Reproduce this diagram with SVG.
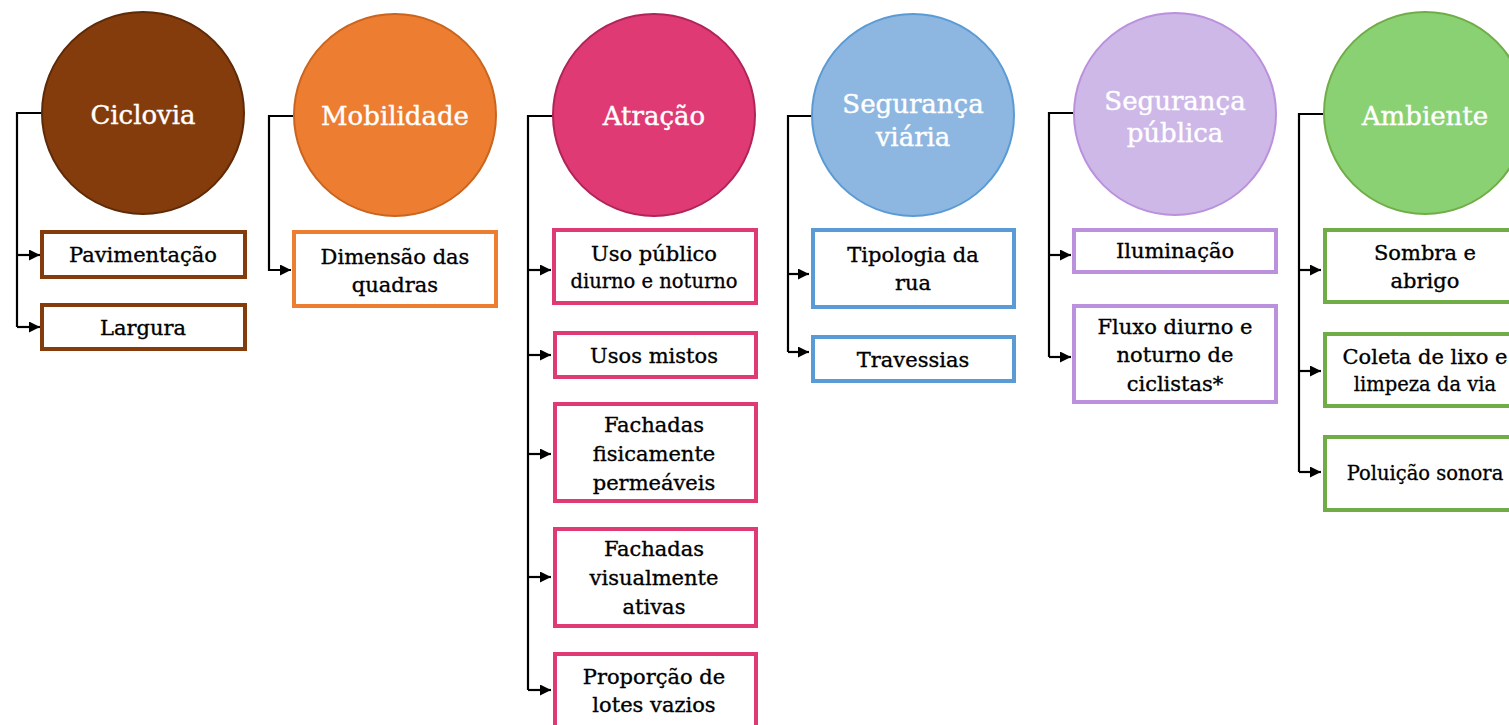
<svg xmlns="http://www.w3.org/2000/svg" width="1509" height="725" viewBox="0 0 1509 725">
<defs>
<marker id="arr" viewBox="0 0 10 10" refX="10" refY="5" markerWidth="11" markerHeight="11" markerUnits="userSpaceOnUse" orient="auto">
<path d="M0,0 L10,5 L0,10 z" fill="#000"/>
</marker>
<style>
text{font-family:"DejaVu Serif","Liberation Serif",serif;text-anchor:middle}
.ct{fill:#fff;stroke:#fff;stroke-width:0.4px;font-size:26px}
.bt{fill:#000;stroke:#000;stroke-width:0.35px;font-size:21px}
.st{fill:#000;stroke:#000;stroke-width:0.3px;font-size:19.5px}
.box{fill:#fff;stroke-width:4}
.c{stroke-width:2}
.con{fill:none;stroke:#000;stroke-width:2.2}
</style>
</defs>
<rect width="1509" height="725" fill="#fff"/>
<g id="connectors">
<path class="con" d="M42,113 H17 V327"/>
<path class="con" d="M17,255 H40" marker-end="url(#arr)"/>
<path class="con" d="M17,327 H40" marker-end="url(#arr)"/>
<path class="con" d="M293,116 H269 V270 H291" marker-end="url(#arr)"/>
<path class="con" d="M553,116 H528 V690"/>
<path class="con" d="M528,270 H551" marker-end="url(#arr)"/>
<path class="con" d="M528,355 H551" marker-end="url(#arr)"/>
<path class="con" d="M528,454 H551" marker-end="url(#arr)"/>
<path class="con" d="M528,577 H551" marker-end="url(#arr)"/>
<path class="con" d="M528,690 H551" marker-end="url(#arr)"/>
<path class="con" d="M812,116 H788 V352"/>
<path class="con" d="M788,274 H809" marker-end="url(#arr)"/>
<path class="con" d="M788,352 H809" marker-end="url(#arr)"/>
<path class="con" d="M1073,113 H1049 V357"/>
<path class="con" d="M1049,255 H1071" marker-end="url(#arr)"/>
<path class="con" d="M1049,357 H1071" marker-end="url(#arr)"/>
<path class="con" d="M1323,114 H1299 V472"/>
<path class="con" d="M1299,270 H1321" marker-end="url(#arr)"/>
<path class="con" d="M1299,371 H1321" marker-end="url(#arr)"/>
<path class="con" d="M1299,472 H1321" marker-end="url(#arr)"/>
</g>
<g id="n-ciclovia">
<circle class="c" cx="143" cy="113" r="101" fill="#843C0C" stroke="#5E2A08"/>
<text class="ct" x="143" y="124">Ciclovia</text>
</g>
<g id="n-pavimentacao">
<rect class="box" x="42" y="232" width="203" height="45" stroke="#843C0C"/>
<text class="bt" x="143" y="262">Pavimentação</text>
</g>
<g id="n-largura">
<rect class="box" x="42" y="305" width="203" height="44" stroke="#843C0C"/>
<text class="bt" x="143" y="335">Largura</text>
</g>
<g id="n-mobilidade">
<circle class="c" cx="395" cy="115" r="101" fill="#ED7D31" stroke="#C9651F"/>
<text class="ct" x="395" y="125">Mobilidade</text>
</g>
<g id="n-dimensao">
<rect class="box" x="294" y="232" width="202" height="74" stroke="#ED7D31"/>
<text class="bt" x="395" y="264">Dimensão das</text>
<text class="bt" x="395" y="292">quadras</text>
</g>
<g id="n-atracao">
<circle class="c" cx="654" cy="115" r="101" fill="#E03A74" stroke="#B0245A"/>
<text class="ct" x="654" y="125">Atração</text>
</g>
<g id="n-uso-publico">
<rect class="box" x="554" y="230" width="202" height="73" stroke="#E03A74"/>
<text class="bt" x="654" y="261">Uso público</text>
<text class="st" x="654" y="288">diurno e noturno</text>
</g>
<g id="n-usos-mistos">
<rect class="box" x="555" y="333" width="201" height="44" stroke="#E03A74"/>
<text class="bt" x="654" y="363">Usos mistos</text>
</g>
<g id="n-fachadas-fis">
<rect class="box" x="555" y="404" width="201" height="97" stroke="#E03A74"/>
<text class="bt" x="654" y="432">Fachadas</text>
<text class="bt" x="654" y="461">fisicamente</text>
<text class="bt" x="654" y="490">permeáveis</text>
</g>
<g id="n-fachadas-vis">
<rect class="box" x="555" y="529" width="201" height="97" stroke="#E03A74"/>
<text class="bt" x="654" y="556">Fachadas</text>
<text class="bt" x="654" y="585">visualmente</text>
<text class="bt" x="654" y="614">ativas</text>
</g>
<g id="n-proporcao">
<rect class="box" x="555" y="654" width="201" height="80" stroke="#E03A74"/>
<text class="bt" x="654" y="684">Proporção de</text>
<text class="bt" x="654" y="712">lotes vazios</text>
</g>
<g id="n-seg-viaria">
<circle class="c" cx="913" cy="115" r="101" fill="#8DB7E0" stroke="#5B9BD5"/>
<text class="ct" x="913" y="113">Segurança</text>
<text class="ct" x="913" y="146">viária</text>
</g>
<g id="n-tipologia">
<rect class="box" x="813" y="230" width="201" height="77" stroke="#5B9BD5"/>
<text class="bt" x="913" y="262">Tipologia da</text>
<text class="bt" x="913" y="290">rua</text>
</g>
<g id="n-travessias">
<rect class="box" x="813" y="337" width="201" height="44" stroke="#5B9BD5"/>
<text class="bt" x="913" y="367">Travessias</text>
</g>
<g id="n-seg-publica">
<circle class="c" cx="1175" cy="114" r="101" fill="#CDB8E8" stroke="#BB90DC"/>
<text class="ct" x="1175" y="110">Segurança</text>
<text class="ct" x="1175" y="142">pública</text>
</g>
<g id="n-iluminacao">
<rect class="box" x="1074" y="230" width="202" height="42" stroke="#BB90DC"/>
<text class="bt" x="1175" y="258">Iluminação</text>
</g>
<g id="n-fluxo">
<rect class="box" x="1074" y="306" width="202" height="96" stroke="#BB90DC"/>
<text class="bt" x="1175" y="334">Fluxo diurno e</text>
<text class="bt" x="1175" y="362">noturno de</text>
<text class="bt" x="1175" y="391">ciclistas*</text>
</g>
<g id="n-ambiente">
<circle class="c" cx="1425" cy="113" r="101" fill="#8AD174" stroke="#70AD47"/>
<text class="ct" x="1425" y="125">Ambiente</text>
</g>
<g id="n-sombra">
<rect class="box" x="1325" y="230" width="202" height="72" stroke="#70AD47"/>
<text class="bt" x="1425" y="260">Sombra e</text>
<text class="bt" x="1425" y="288">abrigo</text>
</g>
<g id="n-coleta">
<rect class="box" x="1325" y="334" width="202" height="72" stroke="#70AD47"/>
<text class="bt" x="1425" y="364">Coleta de lixo e</text>
<text class="st" x="1425" y="391">limpeza da via</text>
</g>
<g id="n-poluicao">
<rect class="box" x="1325" y="437" width="202" height="73" stroke="#70AD47"/>
<text class="st" x="1425" y="480">Poluição sonora</text>
</g>
</svg>
